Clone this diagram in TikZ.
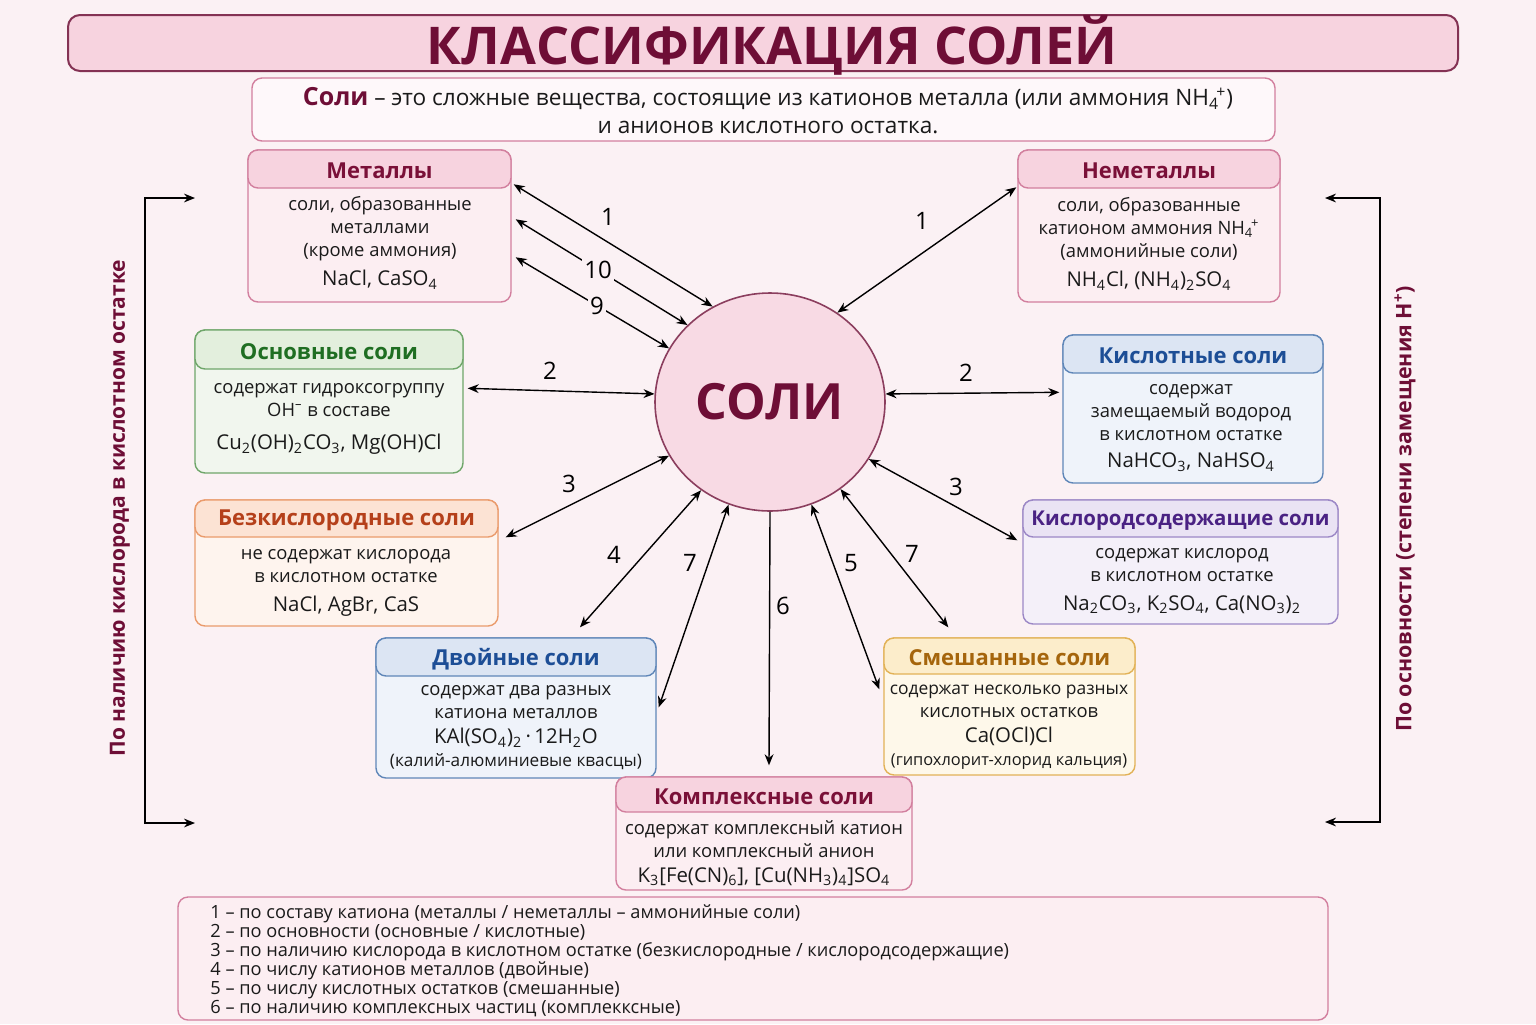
\documentclass[tikz,border=0pt]{standalone}
\usepackage{fontspec}
\setmainfont{Open Sans}
\usetikzlibrary{arrows.meta,positioning,calc,fit,shapes.geometric}

\definecolor{bgcol}{HTML}{FBF1F4}
\definecolor{wine}{HTML}{6E0E36}
\definecolor{ink}{HTML}{1A1A1A}
\definecolor{pinkF}{HTML}{D27F9E}
\definecolor{pinkB}{HTML}{FCEEF2}
\definecolor{pinkH}{HTML}{F7D3DF}
\definecolor{pinkT}{HTML}{7A1038}
\definecolor{greenF}{HTML}{6FA66A}
\definecolor{greenB}{HTML}{F1F6EE}
\definecolor{greenH}{HTML}{E3EFDD}
\definecolor{greenT}{HTML}{1F6E22}
\definecolor{orangeF}{HTML}{EA9B6C}
\definecolor{orangeB}{HTML}{FEF4EE}
\definecolor{orangeH}{HTML}{FCE3D4}
\definecolor{orangeT}{HTML}{B5401A}
\definecolor{blueF}{HTML}{5F86B8}
\definecolor{blueB}{HTML}{EFF3FA}
\definecolor{blueH}{HTML}{DCE5F3}
\definecolor{blueT}{HTML}{1D4E96}
\definecolor{violetF}{HTML}{9C88C6}
\definecolor{violetB}{HTML}{F4F0F9}
\definecolor{violetH}{HTML}{EAE3F4}
\definecolor{violetT}{HTML}{4A2283}
\definecolor{goldF}{HTML}{E2B257}
\definecolor{goldB}{HTML}{FEF8EA}
\definecolor{goldH}{HTML}{FCEDCB}
\definecolor{goldT}{HTML}{A5650C}

\newcommand{\subsup}[2]{\textsubscript{#1}\kern-0.12em\textsuperscript{#2}}

\begin{document}
\begin{tikzpicture}[x=0.5pt,y=-0.5pt,>={Stealth[length=5.5pt,width=4.4pt]},
  box/.style={draw=#1F,fill=#1B,rounded corners=5pt,line width=0.7pt,inner sep=0pt},
  head/.style={draw=#1F,fill=#1H,rounded corners=5pt,line width=0.7pt,inner sep=0pt},
  htext/.style={text=#1T,font=\bfseries\fontsize{11}{13}\selectfont},
  btext/.style={align=center,text=ink,inner sep=0pt,font=\fontsize{9.2}{11.5}\selectfont},
  link/.style={<->,line width=0.7pt},
  num/.style={font=\fontsize{12}{12}\selectfont,inner sep=1pt}]
  \fill[bgcol] (0,0) rectangle (1536,1024);
  \useasboundingbox (0,0) rectangle (1536,1024);

  % title and definition
  \node[draw=wine!85,fill=pinkH,rounded corners=6pt,line width=1pt,inner sep=0pt,
    fit={(68,15) (1458,71)}] (title) {};
  \node[text=wine,font=\bfseries\fontsize{26}{26}\selectfont] (titletxt) at (772,45) {КЛАССИФИКАЦИЯ СОЛЕЙ};
  \node[draw=pinkF,fill=white!60!pinkB,rounded corners=5pt,line width=0.7pt,inner sep=0pt,
    fit={(252,78) (1275,141)}] (defbox) {};
  \node[align=center,text=ink,font=\fontsize{11.3}{14}\selectfont] (deftxt) at (768,111)
    {{\color{wine}\bfseries\fontsize{12.5}{14}\selectfont Соли} – это сложные вещества, состоящие из катионов металла (или аммония NH\subsup{4}{+})\\
     и анионов кислотного остатка.};

  % centre
  \node[ellipse,draw=wine!80,fill=pinkH!85!white,line width=0.8pt,minimum width=115pt,minimum height=109pt,
    text=wine,font=\bfseries\fontsize{25}{25}\selectfont] (soli) at (770,402) {СОЛИ};

  % boxes
  \node[box=pink,fit={(248,150) (511,302)}] (met) {};
  \node[head=pink,fit={(248,150) (511,188)}] (methd) {};
  \node[htext=pink] (mettl) at ($(methd.center)+(0,2)$) {Металлы};
  \node[btext] (metbd) at (380,243) {соли, образованные\\металлами\\(кроме аммония)\\[3pt]{\fontsize{10.2}{12}\selectfont NaCl, CaSO\textsubscript{4}}};

  \node[box=pink,fit={(1018,150) (1280,302)}] (nemet) {};
  \node[head=pink,fit={(1018,150) (1280,188)}] (nemethd) {};
  \node[htext=pink] (nemettl) at ($(nemethd.center)+(0,2)$) {Неметаллы};
  \node[btext] (nemetbd) at (1149,244) {соли, образованные\\катионом аммония NH\subsup{4}{+}\\(аммонийные соли)\\[3pt]{\fontsize{10.2}{12}\selectfont NH\textsubscript{4}Cl, (NH\textsubscript{4})\textsubscript{2}SO\textsubscript{4}}};

  \node[box=green,fit={(195,330) (463,473)}] (osn) {};
  \node[head=green,fit={(195,330) (463,369)}] (osnhd) {};
  \node[htext=green] (osntl) at ($(osnhd.center)+(0,2)$) {Основные соли};
  \node[btext] (osnbd) at (329,419) {содержат гидроксогруппу\\OH\textsuperscript{–} в составе\\[5pt]{\fontsize{10.2}{12}\selectfont Cu\textsubscript{2}(OH)\textsubscript{2}CO\textsubscript{3}, Mg(OH)Cl}};

  \node[box=orange,fit={(195,500) (498,626)}] (bezk) {};
  \node[head=orange,fit={(195,500) (498,537)}] (bezkhd) {};
  \node[htext=orange] (bezktl) at ($(bezkhd.center)+(0,2)$) {Безкислородные соли};
  \node[btext] (bezkbd) at (346,583) {не содержат кислорода\\в кислотном остатке\\[3pt]{\fontsize{10.2}{12}\selectfont NaCl, AgBr, CaS}};

  \node[box=blue,fit={(1063,335) (1323,483)}] (kisl) {};
  \node[head=blue,fit={(1063,335) (1323,373)}] (kislhd) {};
  \node[htext=blue] (kisltl) at ($(kislhd.center)+(0,2)$) {Кислотные соли};
  \node[btext] (kislbd) at (1191,428) {содержат\\замещаемый водород\\в кислотном остатке\\[2pt]{\fontsize{10.2}{12}\selectfont NaHCO\textsubscript{3}, NaHSO\textsubscript{4}}};

  \node[box=violet,fit={(1023,500) (1338,624)}] (kislor) {};
  \node[head=violet,fit={(1023,500) (1338,537)}] (kislorhd) {};
  \node[htext=violet,font=\bfseries\fontsize{10.2}{13}\selectfont] (kislortl) at ($(kislorhd.center)+(0,2)$) {Кислородсодержащие соли};
  \node[btext] (kislorbd) at (1182,581) {содержат кислород\\в кислотном остатке\\[3pt]{\fontsize{10.2}{12}\selectfont Na\textsubscript{2}CO\textsubscript{3}, K\textsubscript{2}SO\textsubscript{4}, Ca(NO\textsubscript{3})\textsubscript{2}}};

  \node[box=blue,fit={(376,638) (656,778)}] (dvoin) {};
  \node[head=blue,fit={(376,638) (656,676)}] (dvoinhd) {};
  \node[htext=blue] (dvointl) at ($(dvoinhd.center)+(0,2)$) {Двойные соли};
  \node[btext] (dvoinbd) at (516,728) {содержат два разных\\катиона металлов\\[1pt]{\fontsize{10.2}{12}\selectfont KAl(SO\textsubscript{4})\textsubscript{2}\,·\,12H\textsubscript{2}O}\\{\fontsize{8.6}{10.5}\selectfont (калий-алюминиевые квасцы)}};

  \node[box=gold,fit={(884,638) (1135,775)}] (smesh) {};
  \node[head=gold,fit={(884,638) (1135,674)}] (smeshhd) {};
  \node[htext=gold] (smeshtl) at ($(smeshhd.center)+(0,2)$) {Смешанные соли};
  \node[btext] (smeshbd) at (1009,727) {{\fontsize{8.7}{11}\selectfont содержат несколько разных}\\кислотных остатков\\[1pt]{\fontsize{10.2}{12}\selectfont Ca(OCl)Cl}\\{\fontsize{8.2}{10.5}\selectfont (гипохлорит-хлорид кальция)}};

  \node[box=pink,fit={(616,777) (912,890)}] (kompl) {};
  \node[head=pink,fit={(616,777) (912,812)}] (komplhd) {};
  \node[htext=pink] (kompltl) at ($(komplhd.center)+(0,2)$) {Комплексные соли};
  \node[btext] (komplbd) at (764,853) {содержат комплексный катион\\или комплексный анион\\[1pt]{\fontsize{10.2}{12}\selectfont K\textsubscript{3}[Fe(CN)\textsubscript{6}], [Cu(NH\textsubscript{3})\textsubscript{4}]SO\textsubscript{4}}};

  % legend
  \node[draw=pinkF,fill=pinkB,rounded corners=5pt,line width=0.7pt,inner sep=0pt,
    fit={(178,897) (1328,1020)}] (legend) {};
  \node[anchor=north west,align=left,text=ink,inner sep=0pt,font=\fontsize{9.1}{9.5}\selectfont] (legtxt) at (210,904)
    {1 – по составу катиона (металлы / неметаллы – аммонийные соли)\\
     2 – по основности (основные / кислотные)\\
     3 – по наличию кислорода в кислотном остатке (безкислородные / кислородсодержащие)\\
     4 – по числу катионов металлов (двойные)\\
     5 – по числу кислотных остатков (смешанные)\\
     6 – по наличию комплексных частиц (комплекксные)};

  % connectors
  \draw[link] ($(met.north east)+(2,35)$) -- (soli.121);
  \draw[link] ($(met.north east)+(4,70)$) -- node[pos=0.48,fill=bgcol,num] (n10) {10} (soli.137);
  \draw[link] ($(met.north east)+(4,108)$) -- node[pos=0.53,fill=bgcol,num] (n9) {9} (soli.152);
  \draw[link] ($(nemet.north west)+(-1,38)$) -- (soli.53);
  \draw[link] ($(osn.north east)+(4,59)$) -- (soli.176);
  \draw[link] (soli.4) -- ($(kisl.north west)+(-3,58)$);
  \draw[link] (soli.208) -- ($(bezk.north east)+(7,38)$);
  \draw[link] (soli.330) -- ($(kislor.north west)+(-5,41)$);
  \draw[link] (soli.232) -- ($(dvoin.north)+(64,-10)$);
  \draw[link] (soli.248) -- ($(dvoin.north east)+(2,70)$);
  \draw[->,line width=0.7pt] (soli.south) -- ($(kompl.north)+(5,-11)$);
  \draw[link] (soli.292) -- ($(smesh.north west)+(-4,52)$);
  \draw[link] (soli.309) -- ($(smesh.north west)+(65,-10)$);
  \node[num] (n1a) at (608,217) {1};
  \node[num] (n1b) at (922,221) {1};
  \node[num] (n2a) at (550,371) {2};
  \node[num] (n2b) at (966,373) {2};
  \node[num] (n3a) at (569,484) {3};
  \node[num] (n3b) at (956,487) {3};
  \node[num] (n4) at (614,555) {4};
  \node[num] (n7a) at (690,563) {7};
  \node[num] (n6) at (783,606) {6};
  \node[num] (n5) at (851,563) {5};
  \node[num] (n7b) at (912,554) {7};

  % side brackets
  \coordinate (lt) at (195,198);
  \coordinate (lb) at (195,823);
  \coordinate (rt) at (1325,198);
  \coordinate (rb) at (1325,822);
  \draw[<->,line width=0.7pt] (lt) -- ++(-50,0) |- (lb);
  \draw[<->,line width=0.7pt] (rt) -- ++(55,0) |- (rb);
  \node[rotate=90,text=wine,font=\bfseries\fontsize{10.5}{12}\selectfont] (sidel) at (120,508) {По наличию кислорода в кислотном остатке};
  \node[rotate=90,text=wine,font=\bfseries\fontsize{10.7}{12}\selectfont] (sider) at (1405,509) {По основности (степени замещения H\textsuperscript{+})};
\end{tikzpicture}
\end{document}
